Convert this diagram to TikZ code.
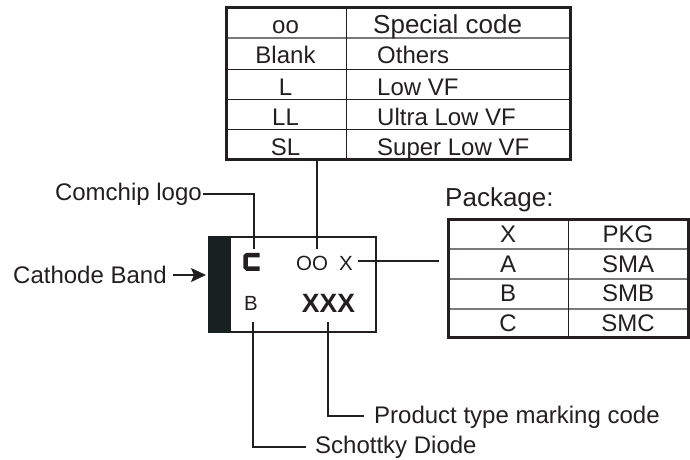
\documentclass[tikz,border=0pt]{standalone}
\usepackage{fontspec}
\setmainfont{Liberation Sans}
\usetikzlibrary{arrows.meta}
\definecolor{ink}{HTML}{231F20}
\definecolor{bandcol}{HTML}{182020}
\definecolor{sep}{HTML}{7A7878}
\tikzset{
  txt/.style={text=ink, inner sep=0pt, font=\fontsize{24}{28}\selectfont},
  bigtxt/.style={text=ink, inner sep=0pt, font=\fontsize{26}{30}\selectfont},
  chiptxt/.style={text=ink, inner sep=0pt, font=\fontsize{20.5}{24}\selectfont},
  boldtxt/.style={text=ink, inner sep=0pt, font=\fontsize{26.5}{30}\selectfont\bfseries},
  outer/.style={draw=ink, line width=3pt},
  inner/.style={draw=ink, line width=1pt},
  greysep/.style={draw=sep, line width=1.2pt},
  wire/.style={draw=ink, line width=1.6pt},
}
\begin{document}
\begin{tikzpicture}[x=1pt,y=-1pt]
\useasboundingbox (0,0) rectangle (690,459);
% ---------- top table
\draw[greysep] (226.5,38) -- (570,38);
\foreach \yy in {69,99,129} \draw[inner] (226.5,\yy) -- (570,\yy);
\draw[inner] (346,7) -- (346,159.5);
\draw[outer] (226.5,7) rectangle (570,159.5);
\node[txt, anchor=base] (t1a) at (285.5,33) {oo};
\node[bigtxt, anchor=base west] (t1b) at (373,33) {Special code};
\node[txt, anchor=base] (t2a) at (285.5,63) {Blank};
\node[txt, anchor=base west] (t2b) at (377,63) {Others};
\node[txt, anchor=base] (t3a) at (285.5,95) {L};
\node[txt, anchor=base west] (t3b) at (377,95) {Low VF};
\node[txt, anchor=base] (t4a) at (285.5,125) {LL};
\node[txt, anchor=base west] (t4b) at (377,125) {Ultra Low VF};
\node[txt, anchor=base] (t5a) at (285.5,155) {SL};
\node[txt, anchor=base west] (t5b) at (377,155) {Super Low VF};
\coordinate (topbot) at (317,159.5);
% ---------- package table
\node[bigtxt, anchor=base west] (pkg) at (445,206) {Package:};
\foreach \yy in {249,279,309} \draw[greysep] (448.5,\yy) -- (688.5,\yy);
\draw[inner] (568,219.5) -- (568,337);
\draw[outer] (448.5,219.5) rectangle (688.5,337);
\node[txt, anchor=base] (p1a) at (508,242) {X};
\node[txt, anchor=base] (p1b) at (628,242) {PKG};
\node[txt, anchor=base] (p2a) at (508,272) {A};
\node[txt, anchor=base] (p2b) at (628,272) {SMA};
\node[txt, anchor=base] (p3a) at (508,301) {B};
\node[txt, anchor=base] (p3b) at (628,301) {SMB};
\node[txt, anchor=base] (p4a) at (508,331) {C};
\node[txt, anchor=base] (p4b) at (628,331) {SMC};
\coordinate (pkgleft) at (439,261);
% ---------- chip
\draw[wire] (209,237) rectangle (376,332);
\fill[bandcol] (208.2,236.2) rectangle (231,332.8);
\draw[ink, line width=4.5pt, rounded corners=1.5pt] (259.5,255) -- (245.5,255) -- (245.5,268.5) -- (259.5,268.5);
\coordinate (logo) at (254,249);
\node[chiptxt, anchor=base] (oo) at (312,270) {OO};
\node[chiptxt, anchor=base] (xx) at (346,270) {X};
\node[chiptxt, anchor=base] (bb) at (251,310) {B};
\node[boldtxt, anchor=base] (xxx) at (328.5,312) {XXX};
\coordinate (ootop) at (317,249);
\coordinate (xright) at (358,261);
\coordinate (bbot) at (253,322);
\coordinate (xxxbot) at (328,322);
% ---------- labels
\node[txt, anchor=base east] (comchip) at (202,200) {Comchip logo};
\coordinate (cl) at (203,194);
\node[txt, anchor=base west] (cathode) at (13,283) {Cathode Band};
\coordinate (arrs) at (173,275);
\coordinate (arre) at (206,275);
\node[txt, anchor=base west] (prod) at (374,423) {Product type marking code};
\coordinate (prodl) at (364,416);
\node[txt, anchor=base west] (schottky) at (315,453) {Schottky Diode};
\coordinate (schl) at (306,447);
% ---------- connectors
\draw[wire] (cl) -| (logo);
\draw[wire] (topbot) -- (ootop);
\draw[wire] (xright) -- (pkgleft);
\draw[wire] (bbot) |- (schl);
\draw[wire] (xxxbot) |- (prodl);
\draw[wire, -{Stealth[length=15pt,width=14pt,inset=3pt]}] (arrs) -- (arre);
\end{tikzpicture}
\end{document}
